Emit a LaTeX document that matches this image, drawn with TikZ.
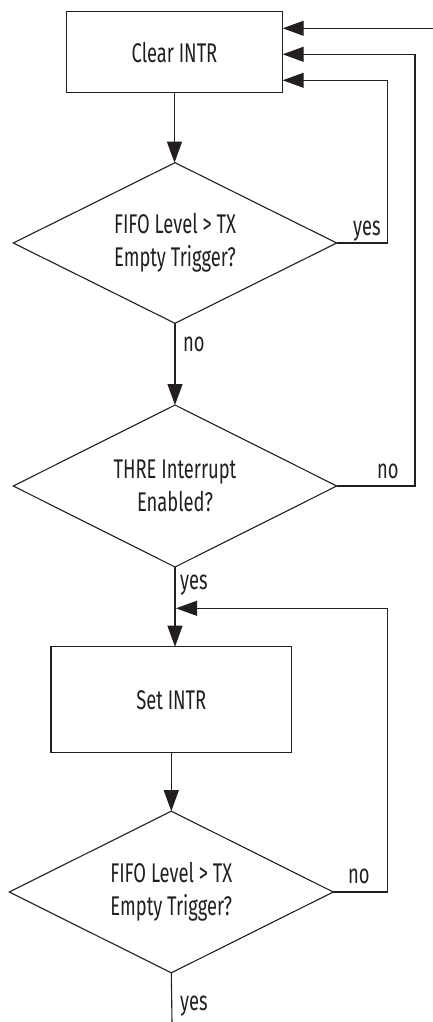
\documentclass[tikz,border=0pt]{standalone}
\usepackage{fontspec}
\setmainfont[FakeStretch=0.68]{Fira Sans}
\usetikzlibrary{shapes.geometric,arrows.meta}
\definecolor{ink}{HTML}{231F20}
\begin{document}
\begin{tikzpicture}[x=1pt,y=-1pt,
  every node/.style={font=\fontsize{27}{33}\selectfont, text=ink},
  procbox/.style={draw=ink, line width=1.1pt, rectangle, inner sep=0pt, outer sep=0pt, align=center},
  decision/.style={draw=ink, line width=1.1pt, diamond, aspect=2, inner sep=0pt, outer sep=0pt, align=center},
  conn/.style={draw=ink, line width=1.1pt},
  arr/.style={conn, -{Triangle[length=21pt,width=15pt]}},
  lbl/.style={anchor=base west, inner sep=0pt}
]
\useasboundingbox (0,0) rectangle (433,1022);
\node[procbox, minimum width=216.4pt, minimum height=80.7pt] (cbox) at (174.5,52.3) {Clear INTR};
\node[decision, minimum width=323.4pt, minimum height=160.6pt] (d1) at (175,243) {FIFO Level > TX\\Empty Trigger?};
\node[decision, minimum width=323.4pt, minimum height=162pt] (d2) at (175,486) {THRE Interrupt\\Enabled?};
\node[procbox, minimum width=240.7pt, minimum height=106pt] (sbox) at (171.3,699.7) {Set INTR};
\node[decision, minimum width=324pt, minimum height=161.6pt] (d3) at (171.3,892) {FIFO Level > TX\\Empty Trigger?};

\coordinate (entry) at (433,28.3);
\coordinate (exit) at (172,1022);
\coordinate (loopin) at (176,608.3);

% main flow
\draw[arr] (cbox.south) -- (cbox.south |- d1.north);
\draw[arr] (d1.south) -- (d2.north);
\draw[arr] (d2.south) -- (d2.south |- sbox.north);
\draw[arr] (sbox.south) -- (d3.north);
\draw[conn] (d3.south) -- (exit);

% feedback loops
\draw[arr] (entry) -- (entry -| cbox.east);
\draw[arr] (d2.east) -- (415,486) -- (415,54.3) -- (cbox.east |- 0,54.3);
\draw[arr] (d1.east) -- (387.7,243) -- (387.7,80.3) -- (cbox.east |- 0,80.3);
\draw[arr] (d3.east) -- (387.7,892) -- (387.7,608.3) -- (loopin);

% labels
\node[lbl] (l1) at (353,235) {yes};
\node[lbl] (l2) at (183,351) {no};
\node[lbl] (l3) at (377,478) {no};
\node[lbl] (l4) at (180,589) {yes};
\node[lbl] (l5) at (348,883) {no};
\node[lbl] (l6) at (180,1010) {yes};
\end{tikzpicture}
\end{document}
